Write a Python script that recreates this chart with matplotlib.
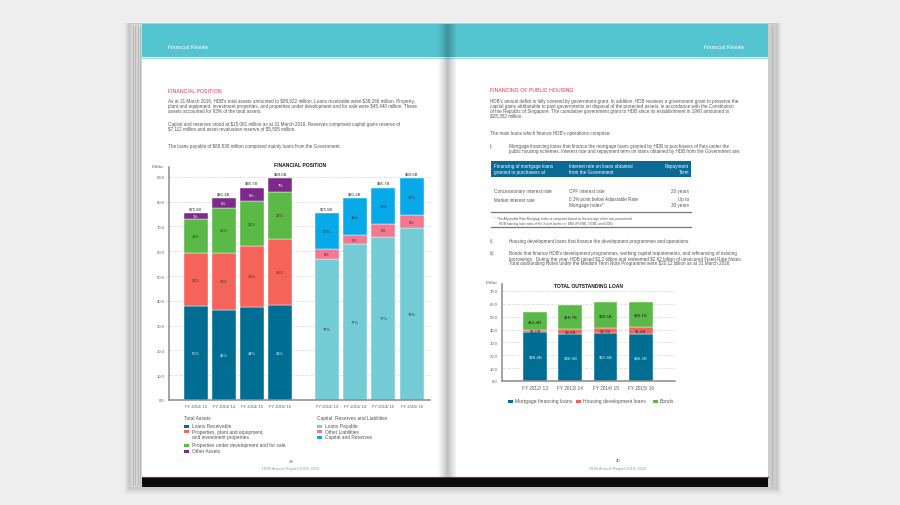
import numpy as np
import matplotlib.pyplot as plt
from matplotlib.patches import Rectangle

# --- data: financial position ($ billion) ---
years = ["FY 2012/ 13", "FY 2013/ 14", "FY 2014/ 15", "FY 2015/ 16"]
total_labels = ["$75.5B", "$81.4B", "$85.7B", "$89.6B"]

loans_receivable = [37.8, 36.5, 37.6, 38.3]
ppe = [21.6, 23.0, 24.5, 26.7]
under_dev = [13.7, 18.0, 18.0, 19.0]
other_assets = [2.4, 3.9, 5.6, 5.6]
loans_receivable_pct = ["50%", "45%", "44%", "43%"]
ppe_pct = ["29%", "28%", "29%", "29%"]
under_dev_pct = ["18%", "22%", "21%", "21%"]
other_assets_pct = ["3%", "5%", "6%", "7%"]

loans_payable = [56.9, 62.8, 65.8, 69.5]
other_liab = [4.0, 3.7, 5.2, 5.0]
capital = [14.6, 14.9, 14.7, 15.1]
loans_payable_pct = ["75%", "77%", "77%", "78%"]
other_liab_pct = ["5%", "5%", "5%", "5%"]
capital_pct = ["20%", "18%", "18%", "17%"]

# --- data: total outstanding loan ($ billion) ---
mortgage = [38.4, 36.6, 37.4, 36.2]
housing_dev = [1.0, 3.9, 3.5, 5.4]
bonds = [14.4, 18.7, 20.5, 20.1]

C_BLUE = "#006d93"
C_RED = "#f4645a"
C_GREEN = "#5ab947"
C_PURPLE = "#7d2a8a"
C_TEAL = "#74ccd7"
C_PINK = "#f2798f"
C_SKY = "#08a9e8"
C_HEAD = "#53c4d0"
C_TXT = "#555555"

plt.rcParams['font.family'] = ['Liberation Sans', 'DejaVu Sans']
plt.rcParams['text.parse_math'] = False  # plain dollar signs

W, H = 900, 506
fig = plt.figure(figsize=(9, 5.06), dpi=100)
fig.patch.set_facecolor("#eeeeee")

# background axes in pixel coordinates
bg = fig.add_axes([0, 0, 1, 1])
bg.set_xlim(0, W)
bg.set_ylim(H, 0)
bg.axis("off")
bg.set_zorder(0)

BODY = 3.3


def rect(x0, y0, x1, y1, color, z=1, alpha=1.0):
    bg.add_patch(Rectangle((x0, y0), x1 - x0, y1 - y0, color=color, lw=0, zorder=z, alpha=alpha))


def txt(x, y, s, size=BODY, color=C_TXT, **kw):
    bg.text(x, y, s, fontsize=size, color=color, va="center", zorder=10, **kw)


# shadow under book
for i, a in enumerate([0.05, 0.04, 0.03, 0.02, 0.01]):
    rect(128 - i, 24, 778 + i, 490 + i * 1.5, "#000000", z=0.5, alpha=a)

# page stack on the left, edge on the right
rect(131, 25, 143, 488, "#d4d4d4", z=1)
for xl in [132.5, 135, 137.5, 140]:
    bg.plot([xl, xl], [27, 486], color="#a8a8a8", lw=0.4, zorder=1.5)
rect(766, 25, 776, 488, "#cdcdcd", z=1)
bg.plot([772, 772], [27, 486], color="#b0b0b0", lw=0.6, zorder=1.5)

# pages
rect(142, 25, 446, 488, "white", z=2)
rect(446, 25, 768, 488, "white", z=2)
# header bands
rect(142, 25, 446, 58, C_HEAD, z=3)
rect(446, 25, 768, 58, C_HEAD, z=3)
bg.plot([142, 768], [58.5, 58.5], color="#8fdce4", lw=0.6, zorder=3.5)
# bottom band
rect(142, 478, 768, 488, "#0a0a0a", z=3)
bg.plot([142, 768], [478.2, 478.2], color="#b01c22", lw=0.8, zorder=3.5)

# gutter shadow
gx = np.linspace(436, 456, 41)
for i in range(len(gx) - 1):
    d = abs((gx[i] + gx[i + 1]) / 2 - 447.5)
    a = max(0.0, 0.32 * (1 - d / 10.5)) ** 1.2
    rect(gx[i], 25, gx[i + 1] + 0.1, 478, "#000000", z=4, alpha=a)

# header text
txt(168, 47, "Financial Review", size=3.8, color="white")
txt(744, 47, "Financial Review", size=3.8, color="white", ha="right")

# ---------------- left page text ----------------
txt(168, 91, "FINANCIAL POSITION", size=3.8, color="#e8334f")
left_lines = [
    (101, "As at 31 March 2016, HDB's total assets amounted to $89,622 million. Loans receivable were $38,266 million. Property,"),
    (106, "plant and equipment, investment properties, and properties under development and for sale were $45,440 million. These"),
    (111, "assets accounted for 93% of the total assets."),
    (124, "Capital and reserves stood at $15,081 million as at 31 March 2016. Reserves comprised capital gains reserve of"),
    (129, "$7,112 million and asset revaluation reserve of $5,505 million."),
    (146, "The loans payable of $69,530 million comprised mainly loans from the Government."),
]
for y, s in left_lines:
    txt(168, y, s)

# ---------------- right page text ----------------
txt(490, 90, "FINANCING OF PUBLIC HOUSING", size=3.8, color="#e8334f")
right_lines = [
    (101, "HDB's annual deficit is fully covered by government grant. In addition, HDB receives a government grant to preserve the"),
    (106, "capital gains attributable to past governments on disposal of the protected assets, in accordance with the Constitution"),
    (111, "of the Republic of Singapore. The cumulative government grant to HDB since its establishment in 1960 amounted to"),
    (116, "$28,352 million."),
    (133, "The main loans which finance HDB's operations comprise:"),
]
for y, s in right_lines:
    txt(490, y, s)
txt(490, 146, "i)")
txt(509, 146, "Mortgage financing loans that finance the mortgage loans granted by HDB to purchasers of flats under the")
txt(509, 151, "public housing schemes. Interest rate and repayment term on loans obtained by HDB from the Government are:")

# table
rect(491, 162, 691, 178, "#0b6a93", z=5)
txt(494, 166.5, "Financing of mortgage loans", color="white")
txt(494, 172.5, "granted to purchasers at", color="white")
txt(569, 166.5, "Interest rate on loans obtained", color="white")
txt(569, 172.5, "from the Government", color="white")
txt(689, 166.5, "Repayment", color="white", ha="right")
txt(689, 172.5, "Term", color="white", ha="right")
txt(494, 191, "Concessionary interest rate")
txt(569, 191, "CPF interest rate")
txt(689, 191, "20 years", ha="right")
txt(494, 200, "Market interest rate")
txt(569, 200, "0.1% point below Adjustable Rate")
txt(569, 206, "Mortgage Index*")
txt(689, 200, "Up to", ha="right")
txt(689, 206, "30 years", ha="right")
bg.plot([491, 691], [213, 213], color="#777777", lw=0.9, zorder=5)
txt(494, 219, "*  The Adjustable Rate Mortgage Index is computed based on the average of the non-promotional", size=2.3)
txt(499, 223.5, "HDB housing loan rates of the 3 local banks i.e. DBS (POSB), OCBC and UOB).", size=2.3)
bg.plot([491, 691], [227.5, 227.5], color="#777777", lw=0.9, zorder=5)

txt(490, 242, "ii)")
txt(509, 242, "Housing development loans that finance the development programmes and operations.")
txt(490, 254, "iii)")
txt(509, 254, "Bonds that finance HDB's development programmes, working capital requirements, and refinancing of existing")
txt(509, 259, "borrowings.  During the year, HDB raised $2.2 billion and redeemed $2.62 billion of unsecured Fixed Rate Notes.")
txt(509, 264, "Total outstanding Notes under the Medium Term Note Programme were $20.12 billion as at 31 March 2016.")

# footers
txt(291, 462, "39", size=3.0, ha="center")
txt(291, 469.5, "HDB Annual Report 2015/ 2016", size=3.0, color="#999999", ha="center")
txt(618, 461, "40", size=3.0, ha="center")
txt(618, 469.5, "HDB Annual Report 2015/ 2016", size=3.0, color="#999999", ha="center")


def style_axes(ax, ymax, step):
    ax.set_facecolor("none")
    ax.set_ylim(0, ymax)
    ax.set_yticks(np.arange(0, ymax, step))
    ax.set_yticklabels([f"{v:.1f}" for v in np.arange(0, ymax, step)], fontsize=3.0, color=C_TXT)
    ax.tick_params(length=0, pad=3)
    for s in ["top", "right"]:
        ax.spines[s].set_visible(False)
    for s in ["left", "bottom"]:
        ax.spines[s].set_color("#8a8a8a")
        ax.spines[s].set_linewidth(1.1)
    ax.yaxis.grid(True, color="#d8d8d8", lw=0.5, ls=(0, (5, 2)))
    ax.set_axisbelow(True)


# ---------------- left chart ----------------
ax1 = fig.add_axes([169 / W, 1 - 401 / H, 261 / W, 233 / H])
ax1.set_zorder(6)
style_axes(ax1, 94, 10)
ax1.set_xlim(-0.94, 8.3)
pos_a = np.arange(4)
pos_l = np.arange(4) + 4.65
bw = 0.85


def stack(ax, pos, series, colors, labels, width, lab_colors, size=3.0):
    bottom = np.zeros(len(pos))
    for vals, col, labs, lc in zip(series, colors, labels, lab_colors):
        ax.bar(pos, vals, width, bottom=bottom, color=col, edgecolor="white", linewidth=0.3)
        for p, b, v, l in zip(pos, bottom, vals, labs):
            if l:
                ax.text(p, b + v / 2, l, ha="center", va="center", fontsize=size, color=lc)
        bottom = bottom + np.array(vals)
    return bottom


tops_a = stack(ax1, pos_a, [loans_receivable, ppe, under_dev, other_assets],
               [C_BLUE, C_RED, C_GREEN, C_PURPLE],
               [loans_receivable_pct, ppe_pct, under_dev_pct, other_assets_pct], bw,
               ["#d8eef5", "#333333", "#333333", "white"])
tops_l = stack(ax1, pos_l, [loans_payable, other_liab, capital],
               [C_TEAL, C_PINK, C_SKY],
               [loans_payable_pct, other_liab_pct, capital_pct], bw,
               ["#333333", "#333333", "#333333"])
for p, t, l in zip(list(pos_a) + list(pos_l), list(tops_a) + list(tops_l), total_labels * 2):
    ax1.text(p, t + 1.9, l, ha="center", va="center", fontsize=3.1, color="#333333")
ax1.set_xticks(list(pos_a) + list(pos_l))
ax1.set_xticklabels(years * 2, fontsize=3.0, color=C_TXT)
txt(300, 165, "FINANCIAL POSITION", size=3.6, color="#111111", ha="center", fontweight="bold")
txt(163, 166, "$ Billion", size=2.2, ha="right")

# left legend
LEG = 3.5
txt(184, 419, "Total Assets", size=LEG)
leg_a = [(427, C_BLUE, "Loans Receivable"),
         (432.5, C_RED, "Properties, plant and equipment,"),
         (446, C_GREEN, "Properties under development and for sale"),
         (452, C_PURPLE, "Other Assets")]
for y, c, s in leg_a:
    rect(184, y - 1.5, 189, y + 1.5, c, z=5)
    txt(192, y, s, size=LEG)
txt(192, 438, "and investment properties", size=LEG)
txt(317, 419, "Capital, Reserves and Liabilities", size=LEG)
leg_l = [(427, C_TEAL, "Loans Payable"),
         (432.5, C_PINK, "Other Liabilities"),
         (438, C_SKY, "Capital and Reserves")]
for y, c, s in leg_l:
    rect(317, y - 1.5, 322, y + 1.5, c, z=5)
    txt(325, y, s, size=LEG)

# ---------------- right chart ----------------
ax2 = fig.add_axes([502 / W, 1 - 382 / H, 173 / W, 97 / H])
ax2.set_zorder(6)
style_axes(ax2, 75.4, 10)
ax2.set_xlim(-0.95, 3.98)
pos_r = np.arange(4)
loan_labels = [[f"${v:.1f}B" for v in s] for s in (mortgage, housing_dev, bonds)]
stack(ax2, pos_r, [mortgage, housing_dev, bonds], [C_BLUE, C_RED, C_GREEN],
      loan_labels, 0.68, ["#d8eef5", "#333333", "#222222"], size=3.2)
ax2.set_xticks(pos_r)
ax2.set_xticklabels(years, fontsize=3.4, color=C_TXT)
txt(588, 286, "TOTAL OUTSTANDING LOAN", size=3.6, color="#111111", ha="center", fontweight="bold")
txt(497, 283, "$ Billion", size=2.2, ha="right")
for x, c, s in [(510, C_BLUE, "Mortgage financing loans"),
                (578, C_RED, "Housing development loans"),
                (655, C_GREEN, "Bonds")]:
    rect(x - 2.5, 400.5, x + 2.5, 403.5, c, z=5)
    txt(x + 5, 402, s, size=3.6)

fig.savefig("out.png", dpi=100, facecolor=fig.get_facecolor())
